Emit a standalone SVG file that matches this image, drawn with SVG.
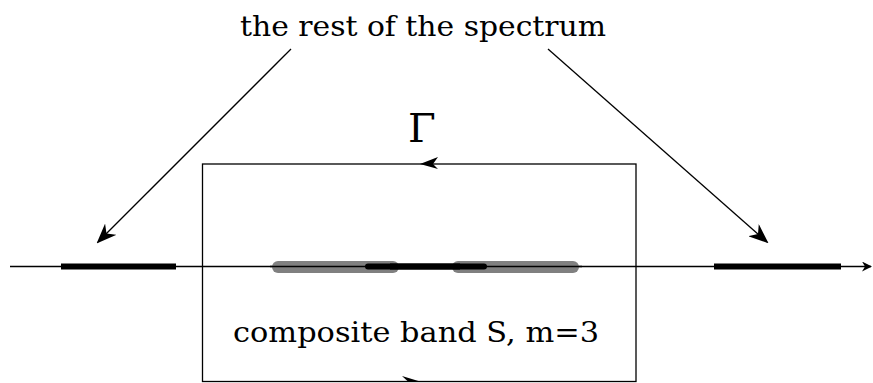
<svg xmlns="http://www.w3.org/2000/svg" width="873" height="383" viewBox="0 0 873 383">
<style>
.ln{stroke:#000;stroke-width:1.3;fill:none}
.bar{stroke:#000;stroke-width:6;fill:none}
.gray{stroke:#808080;stroke-width:12;stroke-linecap:round;fill:none}
.ah{fill:#000;stroke:none}
</style>
<defs>
<marker id="stealth" viewBox="0 0 20 16" refX="18" refY="8" markerWidth="20" markerHeight="16" markerUnits="userSpaceOnUse" orient="auto">
<path d="M0,0 L20,8 L0,16 L6,8 Z" fill="#000"/>
</marker>
<marker id="small" viewBox="0 0 10 10" refX="9" refY="5" markerWidth="10" markerHeight="10" markerUnits="userSpaceOnUse" orient="auto">
<path d="M0,0 L10,5 L0,10 L3,5 Z" fill="#000"/>
</marker>
</defs>
<g id="axis">
<line class="ln" x1="10" y1="266.5" x2="871" y2="266.5" stroke="#444" marker-end="url(#small)"/>
</g>
<g id="contour">
<rect x="202.5" y="164" width="433.5" height="217.5" class="ln"/>
<path class="ah" d="M420,164 L438,157 L433,164 L438,169 Z"/>
<path class="ah" d="M420,381.5 L402,376 L408,381.5 Z"/>
<text x="422" y="142" font-size="40" text-anchor="middle" font-family="'DejaVu Serif', serif" font-weight="300">Γ</text>
</g>
<g id="left-band">
<line class="bar" x1="61" y1="266.5" x2="176" y2="266.5"/>
</g>
<g id="right-band">
<line class="bar" x1="714" y1="266.5" x2="841" y2="266.5"/>
</g>
<g id="composite-band">
<line class="gray" x1="278" y1="267" x2="393" y2="267"/>
<line class="gray" x1="458" y1="267" x2="573" y2="267"/>
<line x1="368" y1="266.5" x2="484" y2="266.5" stroke="#000" stroke-width="6" stroke-linecap="round"/>
<line class="ln" x1="270" y1="266.5" x2="582" y2="266.5" stroke="#444"/>
<line x1="390" y1="266.5" x2="460" y2="266.5" stroke="#000" stroke-width="6"/>
<text x="416" y="342" font-size="28" text-anchor="middle" textLength="366" lengthAdjust="spacingAndGlyphs" font-family="'DejaVu Serif', serif">composite band S, m=3</text>
</g>
<g id="label-rest">
<text x="423" y="36" font-size="28" text-anchor="middle" textLength="366" lengthAdjust="spacingAndGlyphs" font-family="'DejaVu Serif', serif">the rest of the spectrum</text>
</g>
<g id="connectors">
<line class="ln" x1="291" y1="49" x2="98" y2="242" marker-end="url(#stealth)"/>
<line class="ln" x1="548" y1="49" x2="767" y2="242" marker-end="url(#stealth)"/>
</g>
</svg>
